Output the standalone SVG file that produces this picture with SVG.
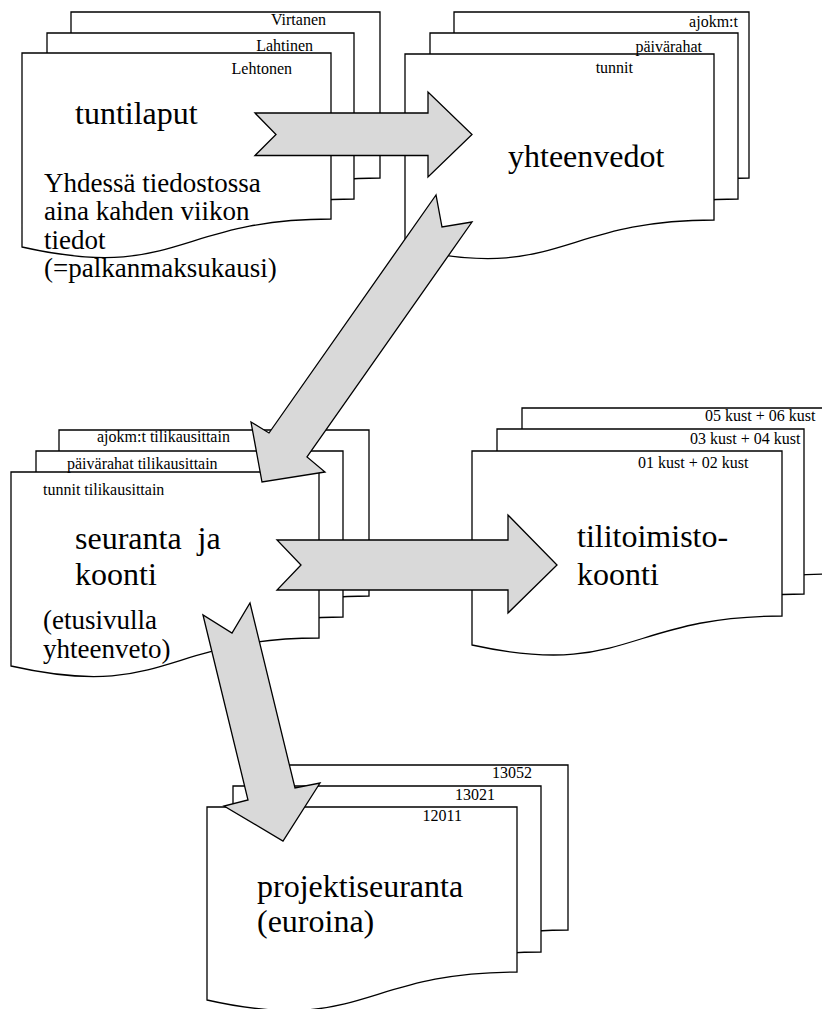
<svg xmlns="http://www.w3.org/2000/svg" width="822" height="1009" viewBox="0 0 822 1009">
<style>
.doc{fill:#fff;stroke:#000;stroke-width:1.3;stroke-linejoin:miter}
.arrow{fill:#d9d9d9;stroke:#000;stroke-width:1.3;stroke-linejoin:miter}
text{font-family:'Liberation Serif','Times New Roman',Tinos,'DejaVu Serif','Noto Serif',serif;fill:#000}
.s{font-size:16px}
.m{font-size:27px}
.b{font-size:32px}
.r{text-anchor:end}
</style>
<rect width="822" height="1009" fill="#fff"/>
<g id="tuntilaput">
<path class="doc" d="M71,12 H380 V178 C225.5,178 225.5,241 71,206 Z"/>
<path class="doc" d="M47,33 H354 V199 C200.5,199 200.5,262 47,227 Z"/>
<path class="doc" d="M22,53 H331 V219 C176.5,219 176.5,282 22,247 Z"/>
<text class="s r" x="326" y="25">Virtanen</text>
<text class="s r" x="313" y="51">Lahtinen</text>
<text class="s r" x="292" y="74">Lehtonen</text>
<text class="b" x="75" y="124">tuntilaput</text>
<text class="m" x="44" y="192">Yhdessä tiedostossa</text>
<text class="m" x="44" y="220">aina kahden viikon</text>
<text class="m" x="44" y="248.5">tiedot</text>
<text class="m" x="44" y="277">(=palkanmaksukausi)</text>
</g>
<g id="yhteenvedot">
<path class="doc" d="M454,12 H749 V178 C601.5,178 601.5,241 454,206 Z"/>
<path class="doc" d="M430,33 H738 V199 C584,199 584,262 430,227 Z"/>
<path class="doc" d="M405,54 H714 V220 C559.5,220 559.5,283 405,248 Z"/>
<text class="s r" x="738" y="27">ajokm:t</text>
<text class="s r" x="702" y="52">päivärahat</text>
<text class="s r" x="633" y="73">tunnit</text>
<text class="b" x="508" y="167">yhteenvedot</text>
</g>
<g id="seuranta">
<path class="doc" d="M59,430 H369 V596 C214,596 214,659 59,624 Z"/>
<path class="doc" d="M36,451 H343 V617 C189.5,617 189.5,680 36,645 Z"/>
<path class="doc" d="M11,472 H319 V638 C165,638 165,701 11,666 Z"/>
<text class="s" x="97" y="442">ajokm:t tilikausittain</text>
<text class="s" x="67" y="469">päivärahat tilikausittain</text>
<text class="s" x="43" y="495">tunnit tilikausittain</text>
<text class="b" x="75" y="549" xml:space="preserve">seuranta  ja</text>
<text class="b" x="75" y="585">koonti</text>
<text class="m" x="43" y="629">(etusivulla</text>
<text class="m" x="43" y="658">yhteenveto)</text>
</g>
<g id="tilitoimisto">
<path class="doc" d="M522,408 H832 V574 C677,574 677,637 522,602 Z"/>
<path class="doc" d="M497,429 H804 V594 C650.5,594 650.5,657 497,622 Z"/>
<path class="doc" d="M472,451 H782 V616 C627,616 627,679 472,645 Z"/>
<text class="s" x="705" y="421">05 kust + 06 kust</text>
<text class="s" x="690" y="444">03 kust + 04 kust</text>
<text class="s" x="638" y="468">01 kust + 02 kust</text>
<text class="b" x="577" y="547">tilitoimisto-</text>
<text class="b" x="577" y="585">koonti</text>
</g>
<g id="projektiseuranta">
<path class="doc" d="M258,765 H568 V930 C413,930 413,993 258,958 Z"/>
<path class="doc" d="M233,786 H541 V952 C387,952 387,1015 233,980 Z"/>
<path class="doc" d="M207,807 H517 V972 C362,972 362,1035 207,1000 Z"/>
<text class="s r" x="532" y="778">13052</text>
<text class="s r" x="495" y="800">13021</text>
<text class="s r" x="462" y="821">12011</text>
<text class="b" x="257" y="897">projektiseuranta</text>
<text class="b" x="257" y="932">(euroina)</text>
</g>
<g id="connectors">
<polygon class="arrow" points="255,113 428,113 428,92 472,134.5 428,177 428,155.5 255,155.5 276,134.5"/>
<polygon class="arrow" points="436,195 269,433 251,422 262,482 325,472 307,457 472,222 442,227"/>
<polygon class="arrow" points="277,540 508,540 508,515 557,565 508,613 508,590 277,590 301,565"/>
<polygon class="arrow" points="203,615 248,800 224,806 283,841 320,783 295,788 250,603 232,633"/>
</g>
</svg>
